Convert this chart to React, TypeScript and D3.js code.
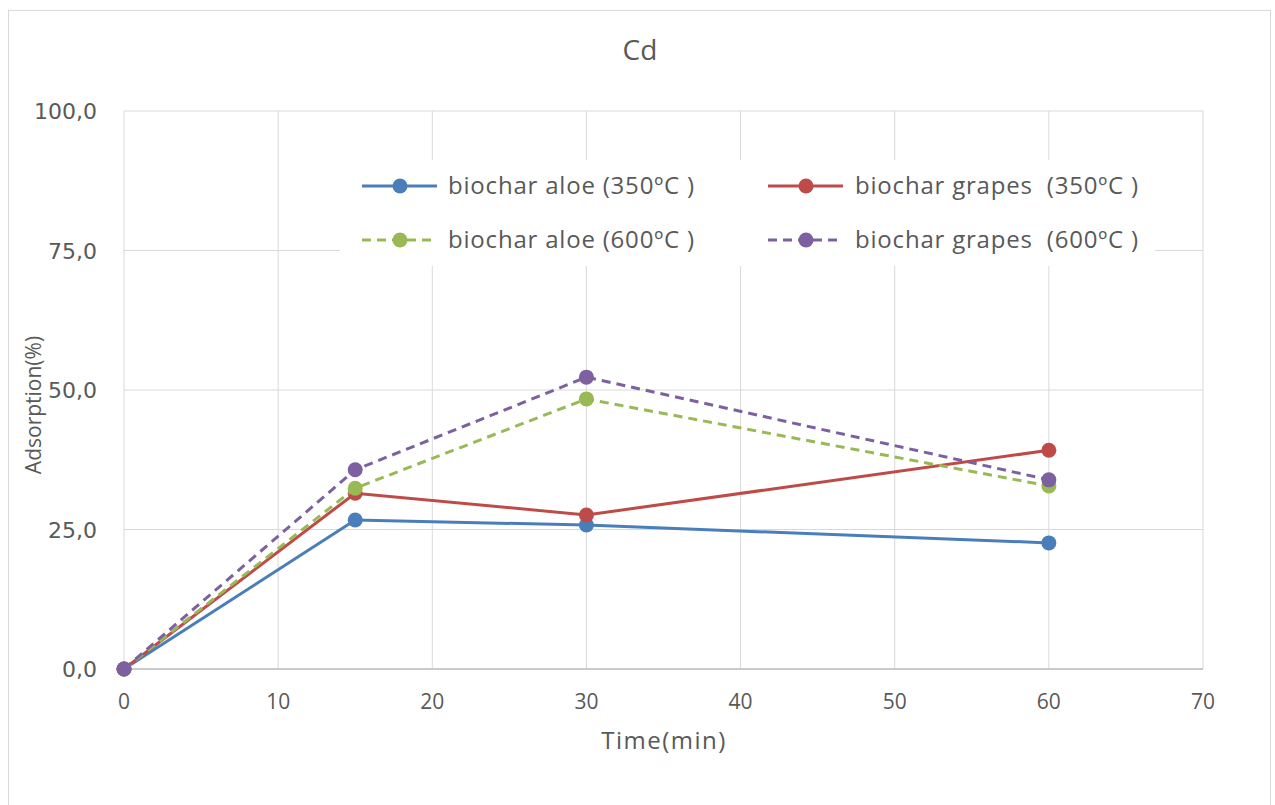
import React from "react";
import * as d3 from "d3";

const times = [0, 15, 30, 60];
const aloe350 = [0, 26.7, 25.8, 22.6];
const grapes350 = [0, 31.5, 27.6, 39.2];
const aloe600 = [0, 32.4, 48.4, 32.8];
const grapes600 = [0, 35.7, 52.3, 33.9];
const seriesNames = [
  "biochar aloe (350ºC )",
  "biochar grapes  (350ºC )",
  "biochar aloe (600ºC )",
  "biochar grapes  (600ºC )",
];
const seriesColors = ["#4a7ebb", "#be4b48", "#98b954", "#7d60a0"];
const seriesDashed = [false, false, true, true];
const xTicks = [0, 10, 20, 30, 40, 50, 60, 70];
const yTicks = [0, 25, 50, 75, 100];

export default function App() {
  const W = 1275, H = 805;
  const x = d3.scaleLinear().domain([0, 70]).range([124, 1203]);
  const y = d3.scaleLinear().domain([0, 100]).range([669, 111]);
  const data = [aloe350, grapes350, aloe600, grapes600];
  const line = d3.line<[number, number]>().x(d => x(d[0])).y(d => y(d[1]));
  const font = "'Open Sans', sans-serif";
  const legendPos = [
    { sx: 362, tx: 448, ty: 186 },
    { sx: 768, tx: 855, ty: 186 },
    { sx: 362, tx: 448, ty: 240 },
    { sx: 768, tx: 855, ty: 240 },
  ];
  return (
    <svg width={W} height={H} style={{ position: "absolute", left: 0, top: 0 }}>
      <rect x={0} y={0} width={W} height={H} fill="#fff" />
      <rect x={8.5} y={10.5} width={1262} height={800} fill="#fff" stroke="#d9d9d9" />
      <text x={640} y={60} textAnchor="middle" fontFamily={font} fontSize={28} fill="#595959">Cd</text>
      {xTicks.map(t => (
        <line key={"gx" + t} x1={x(t)} x2={x(t)} y1={y(100)} y2={y(0)} stroke="#d9d9d9" strokeWidth={1} />
      ))}
      {yTicks.map(t => (
        <line key={"gy" + t} x1={x(0)} x2={x(70)} y1={y(t)} y2={y(t)} stroke="#d9d9d9" strokeWidth={1} />
      ))}
      <line x1={x(0)} x2={x(70)} y1={y(0)} y2={y(0)} stroke="#bfbfbf" strokeWidth={1.5} />
      {yTicks.map(t => (
        <text key={"ty" + t} x={97} y={y(t) + 8} textAnchor="end" fontFamily="'DejaVu Sans', sans-serif" fontSize={22} fill="#595959">
          {d3.format(".1f")(t).replace(".", ",")}
        </text>
      ))}
      {xTicks.map(t => (
        <text key={"tx" + t} x={x(t)} y={709} textAnchor="middle" fontFamily={font} fontSize={21} fill="#595959">{t}</text>
      ))}
      <text x={664} y={749} textAnchor="middle" fontFamily={font} fontSize={24} letterSpacing={1.5} fill="#595959">Time(min)</text>
      <text transform="translate(41,405) rotate(-90)" textAnchor="middle" fontFamily={font} fontSize={21} fill="#595959">Adsorption(%)</text>
      <rect x={340} y={160} width={815} height={106} fill="#fff" />
      {data.map((vals, i) => {
        const pts: [number, number][] = times.map((t, j) => [t, vals[j]]);
        return (
          <g key={"s" + i}>
            <path d={line(pts) || ""} fill="none" stroke={seriesColors[i]} strokeWidth={3} strokeDasharray={seriesDashed[i] ? "9,6" : undefined} />
            {pts.map((p, j) => (
              <circle key={j} cx={x(p[0])} cy={y(p[1])} r={7.5} fill={seriesColors[i]} />
            ))}
          </g>
        );
      })}
      {seriesNames.map((n, i) => {
        const lp = legendPos[i];
        return (
          <g key={"l" + i}>
            <line x1={lp.sx} x2={lp.sx + 75} y1={lp.ty} y2={lp.ty} stroke={seriesColors[i]} strokeWidth={3} strokeDasharray={seriesDashed[i] ? "9,6" : undefined} />
            <circle cx={lp.sx + 38} cy={lp.ty} r={7.5} fill={seriesColors[i]} />
            <text x={lp.tx} y={lp.ty + 8} fontFamily={font} fontSize={24} letterSpacing={0.8} fill="#595959" style={{ whiteSpace: "pre" }}>{n}</text>
          </g>
        );
      })}
    </svg>
  );
}
